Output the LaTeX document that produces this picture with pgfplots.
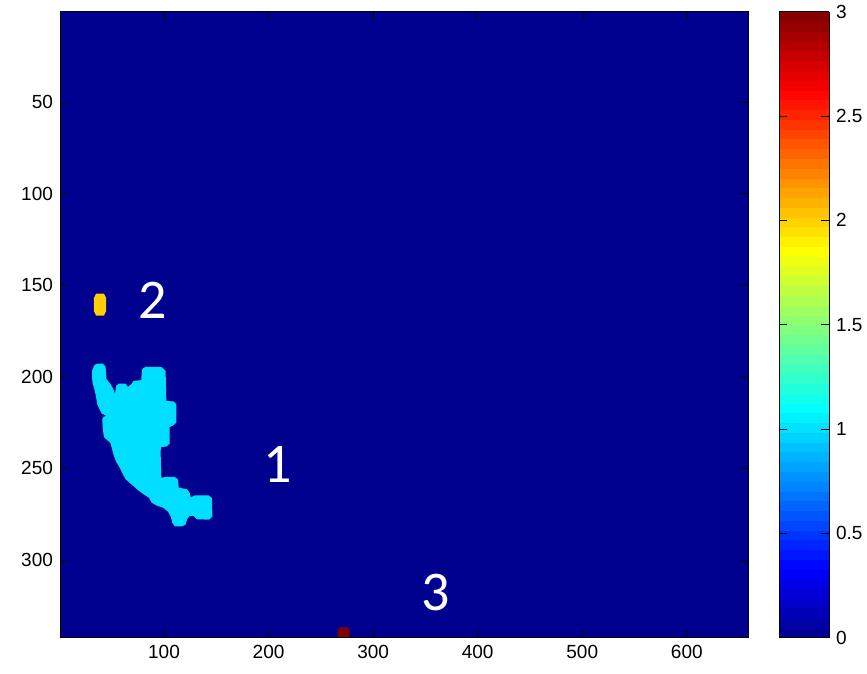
\documentclass[border=0pt]{standalone}
\usepackage{fontspec}
\setmainfont{Liberation Sans}
\newfontfamily\carl{Carlito}
\usepackage{pgfplots}
\pgfplotsset{compat=1.18}
\definecolor{bgblue}{rgb}{0,0,0.5625}
\definecolor{cyanc}{rgb}{0,0.875,1}
\definecolor{orangec}{rgb}{1,0.8125,0}
\definecolor{darkredc}{rgb}{0.5,0,0}
\begin{document}
\begin{tikzpicture}
\begin{axis}[
  scale only axis,
  width=344pt, height=313pt,
  xmin=0.5, xmax=658.5,
  ymin=0.5, ymax=342.5,
  y dir=reverse,
  axis on top,
  axis background/.style={fill=bgblue},
  xtick={100,200,...,600},
  ytick={50,100,...,300},
  tick align=inside,
  major tick length=4pt,
  xtick pos=both, ytick pos=both,
  xticklabel pos=bottom, yticklabel pos=left,
  tick style={black, thin},
  axis line style={black, thin},
  /pgf/number format/assume math mode=true,
  tick label style={font=\fontsize{9.5}{10}\selectfont},
  colormap={matjet}{rgb(0pt)=(0,0,0.5625); rgb(7pt)=(0,0,1); rgb(23pt)=(0,1,1); rgb(39pt)=(1,1,0); rgb(55pt)=(1,0,0); rgb(63pt)=(0.5,0,0)},
  point meta min=0, point meta max=3,
  colorbar sampled,
  colorbar style={
    samples=65,
    at={(parent axis.north east)}, anchor=north west, xshift=7pt,
    width=25pt,
    ytick={0,0.5,...,3},
    tick align=inside,
    major tick length=4pt,
    ytick pos=both, yticklabel pos=right,
    tick style={black, thin},
    axis line style={black, thin},
    /pgf/number format/assume math mode=true,
    /pgf/number format/fixed,
    yticklabel style={font=\fontsize{9.5}{10}\selectfont},
  },
]
% cluster 1 (value 1)
\addplot[draw=none, fill=cyanc, forget plot] coordinates {
(41.5,192.7) (44.1,194.5) (45.0,201.3) (48.5,203.7) (51.1,206.2) (53.0,209.1)
(54.3,204.9) (56.8,203.7) (63.2,203.7) (65.5,205.5) (68.6,204.0) (70.9,202.2)
(78.2,201.8) (78.9,195.8) (82.4,194.5) (97.4,194.5) (101.5,196.7) (102.2,213.1)
(109.5,213.5) (111.7,215.0) (111.7,225.0) (109.5,226.3) (105.4,227.4) (105.4,236.5)
(102.2,238.1) (97.4,238.3) (96.7,240.5) (97.4,255.1) (101.5,254.7) (110.2,254.7)
(113.3,256.0) (114.0,260.5) (122.0,261.4) (124.5,263.3) (125.5,266.0) (129.3,264.7)
(142.7,264.7) (145.9,266.4) (146.2,276.4) (143.0,278.0) (131.5,277.8) (128.4,276.0)
(124.5,276.0) (122.0,277.8) (120.7,280.6) (117.5,281.7) (110.2,281.7) (107.9,279.7)
(106.6,276.6) (103.8,273.6) (99.0,271.5) (92.6,270.2) (88.1,268.7) (85.6,266.0)
(81.4,264.5) (76.0,262.3) (71.8,260.2) (67.0,257.8) (63.2,255.9) (60.7,253.2)
(57.5,249.6) (54.3,246.3) (52.0,243.2) (50.4,239.6) (48.5,235.9) (44.7,234.1)
(42.5,232.8) (41.5,228.6) (40.9,223.2) (42.1,221.9) (44.7,221.3) (40.5,220.1)
(38.3,217.7) (36.1,215.0) (35.1,211.3) (33.5,206.8) (31.9,204.0) (31.3,201.3)
(31.3,196.4) (33.5,193.5) (36.7,192.7)
} -- cycle;
% cluster 2 (value 2)
\addplot[draw=none, fill=orangec, forget plot] coordinates {
(35.0,154.5) (42.5,154.5) (44.7,157.0) (44.7,164.0) (42.5,166.6) (35.0,166.6) (32.9,164.0) (32.9,157.0)
} -- cycle;
% cluster 3 (value 3)
\addplot[draw=none, fill=darkredc, forget plot] coordinates {
(266.0,342.5) (266.0,338.5) (268.0,336.8) (275.5,336.8) (277.4,338.5) (277.4,342.5)
} -- cycle;
\node[text=white, font=\carl\fontsize{28}{28}\selectfont] at (axis cs:89,158) {2};
\node[text=white, font=\carl\fontsize{28}{28}\selectfont] at (axis cs:209,247.6) {1};
\node[text=white, font=\carl\fontsize{28}{28}\selectfont] at (axis cs:360,318) {3};
\end{axis}
\pgfresetboundingbox
\path (-30pt,-17.75pt) rectangle (403.5pt,318.85pt);
\end{tikzpicture}
\end{document}
